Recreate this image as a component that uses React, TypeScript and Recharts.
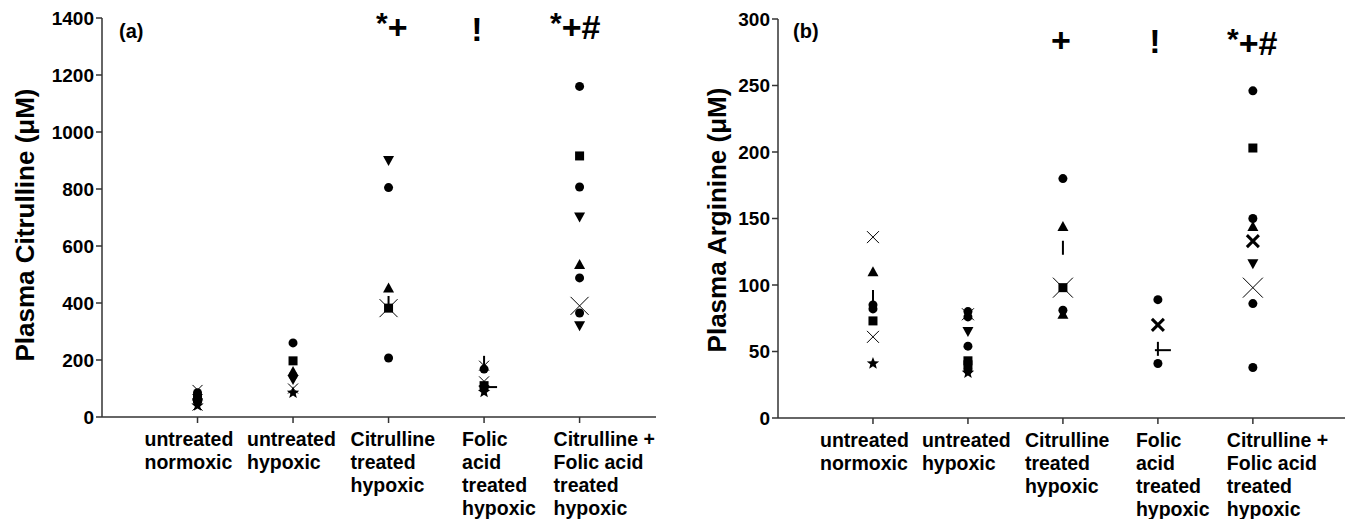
import React from 'react';
import { ScatterChart, Scatter, XAxis, YAxis } from 'recharts';

const groups = [
  ['untreated', 'normoxic'],
  ['untreated', 'hypoxic'],
  ['Citrulline', 'treated', 'hypoxic'],
  ['Folic', 'acid', 'treated', 'hypoxic'],
  ['Citrulline +', 'Folic acid', 'treated', 'hypoxic'],
];
const groupIds = [1, 2, 3, 4, 5];
const citTicks = [0, 200, 400, 600, 800, 1000, 1200, 1400];
const argTicks = [0, 50, 100, 150, 200, 250, 300];

// (a) plasma citrulline, one array per marker, g = group
const citCircle = [
  { g: 1, v: 85 }, { g: 1, v: 55 }, { g: 2, v: 260 }, { g: 2, v: 145 },
  { g: 3, v: 805 }, { g: 3, v: 207 }, { g: 4, v: 168 },
  { g: 5, v: 1160 }, { g: 5, v: 807 }, { g: 5, v: 488 }, { g: 5, v: 365 },
];
const citSquare = [{ g: 1, v: 65 }, { g: 2, v: 197 }, { g: 3, v: 382 }, { g: 4, v: 110 }, { g: 5, v: 916 }];
const citTriangle = [{ g: 1, v: 75 }, { g: 2, v: 160 }, { g: 3, v: 453 }, { g: 5, v: 535 }];
const citTriDown = [
  { g: 1, v: 50 }, { g: 2, v: 132 }, { g: 3, v: 900 }, { g: 4, v: 95 }, { g: 5, v: 702 }, { g: 5, v: 320 },
];
const citStar = [{ g: 1, v: 40 }, { g: 2, v: 85 }, { g: 4, v: 88 }];
const citCross = [{ g: 1, v: 95 }, { g: 1, v: 40 }, { g: 2, v: 100 }, { g: 4, v: 180 }, { g: 4, v: 125 }];
const citBigCross = [{ g: 3, v: 382 }, { g: 5, v: 390 }];
const citVLine = [{ g: 3, v: 400 }, { g: 4, v: 190 }];
const citHLine = [{ g: 4, v: 105 }];

// (b) plasma arginine
const argCircle = [
  { g: 1, v: 85 }, { g: 1, v: 82 }, { g: 2, v: 80 }, { g: 2, v: 76 }, { g: 2, v: 54 }, { g: 2, v: 36 },
  { g: 3, v: 180 }, { g: 3, v: 81 }, { g: 4, v: 89 }, { g: 4, v: 41 },
  { g: 5, v: 246 }, { g: 5, v: 150 }, { g: 5, v: 86 }, { g: 5, v: 38 },
];
const argSquare = [{ g: 1, v: 73 }, { g: 2, v: 43 }, { g: 2, v: 40 }, { g: 3, v: 98 }, { g: 5, v: 203 }];
const argTriangle = [{ g: 1, v: 110 }, { g: 3, v: 144 }, { g: 3, v: 78 }, { g: 5, v: 144 }];
const argTriDown = [{ g: 2, v: 65 }, { g: 5, v: 116 }];
const argStar = [{ g: 1, v: 41 }, { g: 2, v: 34 }];
const argCross = [{ g: 1, v: 136 }, { g: 1, v: 61 }, { g: 2, v: 78 }];
const argBigCross = [{ g: 3, v: 98 }, { g: 5, v: 98 }];
const argBoldCross = [{ g: 4, v: 70 }, { g: 5, v: 133 }];
const argVLine = [{ g: 1, v: 91 }, { g: 3, v: 128 }, { g: 4, v: 52 }];
const argHLine = [{ g: 4, v: 51 }];

const FONT = '"Liberation Sans", Arial, sans-serif';
const INK = '#000';
const labelShift = [-53, -46, -38, -22, -26];

const circle = (p: any) => <circle cx={p.cx} cy={p.cy} r={4.5} fill={INK} />;
const square = (p: any) => <rect x={p.cx - 4.5} y={p.cy - 4.5} width={9} height={9} fill={INK} />;
const triangle = (p: any) => (
  <polygon points={`${p.cx},${p.cy - 5.5} ${p.cx + 5.5},${p.cy + 4.5} ${p.cx - 5.5},${p.cy + 4.5}`} fill={INK} />
);
const triDown = (p: any) => (
  <polygon points={`${p.cx},${p.cy + 5.5} ${p.cx + 5.5},${p.cy - 4.5} ${p.cx - 5.5},${p.cy - 4.5}`} fill={INK} />
);
const star = (p: any) => {
  const pts: string[] = [];
  for (let i = 0; i < 10; i++) {
    const r = i % 2 === 0 ? 6.5 : 2.8;
    const a = -Math.PI / 2 + (i * Math.PI) / 5;
    pts.push(`${p.cx + r * Math.cos(a)},${p.cy + r * Math.sin(a)}`);
  }
  return <polygon points={pts.join(' ')} fill={INK} />;
};
const cross = (h: number, w: number) => (p: any) => (
  <g stroke={INK} strokeWidth={w}>
    <line x1={p.cx - h} y1={p.cy - h} x2={p.cx + h} y2={p.cy + h} />
    <line x1={p.cx - h} y1={p.cy + h} x2={p.cx + h} y2={p.cy - h} />
  </g>
);
const vLine = (p: any) => <line x1={p.cx} y1={p.cy - 7} x2={p.cx} y2={p.cy + 7} stroke={INK} strokeWidth={2} />;
const hLine = (p: any) => <line x1={p.cx - 3} y1={p.cy} x2={p.cx + 13} y2={p.cy} stroke={INK} strokeWidth={2} />;

const GroupTick = (props: any) => {
  const { x, y, payload } = props;
  const i = payload.value - 1;
  const lines = groups[i];
  if (!lines) return null;
  const lx = x + labelShift[i];
  return (
    <text x={lx} y={y} fontFamily={FONT} fontWeight="bold" fontSize={19.5} fill={INK} textAnchor="start">
      {lines.map((l, j) => (
        <tspan key={j} x={lx} dy={j === 0 ? 21 : 23}>{l}</tspan>
      ))}
    </text>
  );
};

type Series = { data: { g: number; v: number }[]; shape: any };

const Panel = ({ series, ticks, xMax, width, margin }: any) => (
  <ScatterChart width={width} height={519} margin={margin}>
    <XAxis
      type="number"
      dataKey="g"
      domain={[0, xMax]}
      ticks={groupIds}
      interval={0}
      height={90}
      tick={<GroupTick />}
      tickSize={6}
      stroke="#333"
      strokeWidth={1.5}
      allowDataOverflow
    />
    <YAxis
      type="number"
      dataKey="v"
      domain={[0, ticks[ticks.length - 1]]}
      ticks={ticks}
      interval={0}
      width={60}
      tickSize={6}
      stroke="#333"
      strokeWidth={1.5}
      tick={{ fill: INK, fontSize: 19, fontWeight: 'bold', fontFamily: FONT }}
    />
    {series.map((s: Series, i: number) => (
      <Scatter key={i} data={s.data} dataKey="v" shape={s.shape} isAnimationActive={false} />
    ))}
  </ScatterChart>
);

const citSeries: Series[] = [
  { data: citCross, shape: cross(5, 1) },
  { data: citBigCross, shape: cross(9, 1) },
  { data: citCircle, shape: circle },
  { data: citSquare, shape: square },
  { data: citTriangle, shape: triangle },
  { data: citTriDown, shape: triDown },
  { data: citStar, shape: star },
  { data: citVLine, shape: vLine },
  { data: citHLine, shape: hLine },
];

const argSeries: Series[] = [
  { data: argCross, shape: cross(6, 1) },
  { data: argBigCross, shape: cross(10, 1) },
  { data: argCircle, shape: circle },
  { data: argSquare, shape: square },
  { data: argTriangle, shape: triangle },
  { data: argTriDown, shape: triDown },
  { data: argStar, shape: star },
  { data: argBoldCross, shape: cross(6, 3) },
  { data: argVLine, shape: vLine },
  { data: argHLine, shape: hLine },
];

const big = { fontFamily: FONT, fontWeight: 'bold' as const, fill: INK };

export default function App() {
  return (
    <div style={{ position: 'absolute', left: 0, top: 0, width: 1351, height: 519, background: '#fff' }}>
      <div style={{ position: 'absolute', left: 0, top: 0 }}>
        <Panel series={citSeries} ticks={citTicks} xMax={5.8} width={680}
          margin={{ top: 18, right: 24, bottom: 12, left: 42 }} />
      </div>
      <div style={{ position: 'absolute', left: 680, top: 0 }}>
        <Panel series={argSeries} ticks={argTicks} xMax={5.97} width={671}
          margin={{ top: 19, right: 6, bottom: 11, left: 38 }} />
      </div>
      <svg width={1351} height={519} style={{ position: 'absolute', left: 0, top: 0, pointerEvents: 'none' }}>
        <text transform="translate(34,225) rotate(-90)" textAnchor="middle" fontSize={26} {...big}>
          Plasma Citrulline (μM)
        </text>
        <text transform="translate(726,220) rotate(-90)" textAnchor="middle" fontSize={26} {...big}>
          Plasma Arginine (μM)
        </text>
        <text x={119} y={38} fontSize={20} {...big}>(a)</text>
        <text x={793} y={38} fontSize={20} {...big}>(b)</text>
        <text x={376} y={39} fontSize={34} {...big}>
          <tspan fontSize={30} dy={-6}>*</tspan><tspan dy={6}>+</tspan>
        </text>
        <text x={477} y={41} fontSize={34} textAnchor="middle" {...big}>!</text>
        <text x={550} y={39} fontSize={34} {...big}>
          <tspan fontSize={30} dy={-6}>*</tspan><tspan dy={6}>+#</tspan>
        </text>
        <text x={1061} y={52} fontSize={34} textAnchor="middle" {...big}>+</text>
        <text x={1155} y={53} fontSize={34} textAnchor="middle" {...big}>!</text>
        <text x={1227} y={55} fontSize={34} {...big}>
          <tspan fontSize={30} dy={-6}>*</tspan><tspan dy={6}>+#</tspan>
        </text>
      </svg>
    </div>
  );
}
